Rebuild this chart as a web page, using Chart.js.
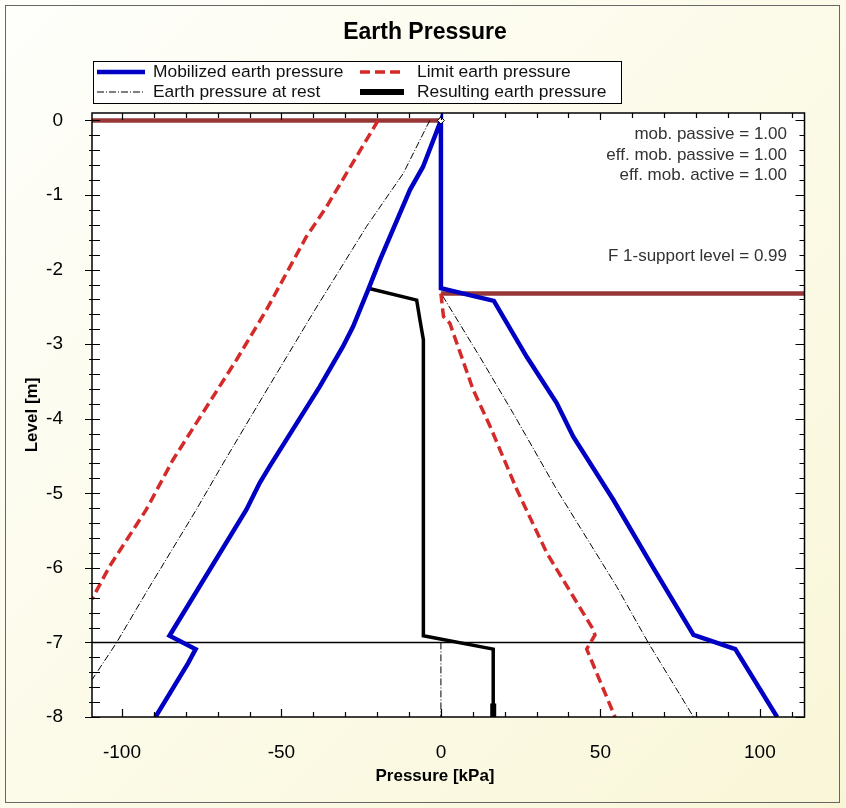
<!DOCTYPE html>
<html>
<head>
<meta charset="utf-8">
<title>Earth Pressure</title>
<script src="https://cdn.jsdelivr.net/npm/chart.js@4.4.1/dist/chart.umd.min.js"></script>
<style>
  html, body { margin: 0; padding: 0; }
  body {
    width: 846px;
    height: 808px;
    background: linear-gradient(135deg, #fefefb 0%, #fcfbe9 50%, #f9f6d8 100%);
  }
  canvas { display: block; }
</style>
</head>
<body>
<canvas id="chart" width="846" height="808"></canvas>
<script>
// Mobilized earth pressure: active side (bottom -> top), wall, passive side
const mobPressure = [-89.5, -79.3, -76.9, -85.1, -61.0, -56.8, -53.7, -38.0, -30.7, -27.5, -22.8, -19.1, -9.7, -5.6, 0, 0, 16.6, 26.9, 36.3, 41.5, 54.1, 66.6, 71.9, 79.2, 92.3, 105.4];
const mobLevel    = [-8.0, -7.28, -7.09, -6.91, -5.22, -4.86, -4.64, -3.57, -3.03, -2.76, -2.27, -1.87, -0.93, -0.62, 0, -2.25, -2.42, -3.17, -3.79, -4.24, -5.09, -6.0, -6.38, -6.90, -7.09, -8.0];

// Limit earth pressure
const limActPressure = [-19.7, -35.9, -42.2, -54.7, -64.1, -84.0, -92.4, -103.9, -109.4];
const limActLevel    = [0, -1.16, -1.56, -2.54, -3.21, -4.55, -5.22, -5.98, -6.42];
const limPasPressure = [0, 0.8, 2.8, 10.1, 15.4, 23.8, 33.2, 47.8, 48.3, 45.7, 54.6];
const limPasLevel    = [-2.32, -2.63, -2.72, -3.61, -4.10, -4.95, -5.80, -6.83, -6.90, -7.09, -8.0];

// Earth pressure at rest
const restActPressure = [-3.5, -11.8, -23.3, -39.5, -55.8, -68.3, -76.7, -91.3, -101.8, -109.4];
const restActLevel    = [0, -0.71, -1.42, -2.54, -3.70, -4.60, -5.22, -6.25, -7.01, -7.5];
const restPasPressure = [0.5, 12.2, 22.7, 36.3, 55.1, 65.1, 79.2];
const restPasLevel    = [-2.35, -3.17, -3.93, -4.95, -6.25, -7.01, -8.0];
const restWallPressure = [0, 0];
const restWallLevel    = [-7, -8];

// Resulting earth pressure
const resPressure = [-22.8, -7.6, -6.6, -5.5, -5.5, 16.4, 16.4];
const resLevel    = [-2.25, -2.41, -2.67, -2.94, -6.91, -7.09, -8.0];
const resTipPressure = [16.4, 16.4];
const resTipLevel    = [-7.82, -8.0];

// Supports and excavation level
const pressureMin = -109.4;
const pressureMax = 114;
const levelMin = -8;
const levelMax = 0.1;
const supportLevels = [0, -2.32];
const excavationLevel = -7;

// Axis ticks
const pressureMarks = [-100, -90, -80, -70, -60, -50, -40, -30, -20, -10, 0, 10, 20, 30, 40, 50, 60, 70, 80, 90, 100, 110];
const pressureLabels = [-100, -50, 0, 50, 100];
const levelLabels = [0, -1, -2, -3, -4, -5, -6, -7, -8];
const levelMinorStep = 0.2;

const legendLabels = ["Mobilized earth pressure", "Limit earth pressure", "Earth pressure at rest", "Resulting earth pressure"];
const notes = ["mob. passive = 1.00", "eff. mob. passive = 1.00", "eff. mob. active = 1.00", "F 1-support level = 0.99"];

const FONT = "'Liberation Sans', Arial, sans-serif";
const BLUE = "#0000c4";
const RED = "#d42a2a";
const BROWN = "#963636";
const REST_DASH = [7, 2, 1, 2];

function pts(xs, ys) {
  return xs.map((x, i) => ({ x: x, y: ys[i] }));
}

function line(data, color, width, dash, order) {
  return {
    data: data,
    showLine: true,
    borderColor: color,
    backgroundColor: color,
    borderWidth: width,
    borderDash: dash || [],
    pointRadius: 0,
    pointHoverRadius: 0,
    tension: 0,
    clip: 0,
    order: order
  };
}

const frame = {
  id: "frame",
  beforeDraw(chart) {
    const { ctx, chartArea: a } = chart;
    ctx.save();
    ctx.fillStyle = "#ffffff";
    ctx.fillRect(a.left, a.top, a.right - a.left, a.bottom - a.top);
    ctx.strokeStyle = "#666";
    ctx.lineWidth = 1;
    ctx.strokeRect(5.5, 5.5, 834, 797);
    ctx.restore();
  },
  afterDraw(chart) {
    drawAxes(chart);
    drawLegend(chart);
    drawTexts(chart);
  }
};

function drawAxes(chart) {
  const { ctx, chartArea: a, scales: { x, y } } = chart;
  ctx.save();
  ctx.strokeStyle = "#000";
  ctx.lineWidth = 1.5;
  ctx.strokeRect(a.left, a.top, a.right - a.left, a.bottom - a.top);

  ctx.lineWidth = 1.2;
  ctx.beginPath();
  pressureMarks.forEach(v => {
    const px = Math.round(x.getPixelForValue(v)) + 0.5;
    const major = pressureLabels.includes(v);
    ctx.moveTo(px, a.bottom);
    ctx.lineTo(px, a.bottom - (major ? 8 : 5));
    ctx.moveTo(px, a.top);
    ctx.lineTo(px, a.top + (major ? 7 : 5));
  });
  const steps = Math.round((0 - levelMin) / levelMinorStep);
  for (let i = 0; i <= steps; i++) {
    const v = levelMin + i * levelMinorStep;
    const py = Math.round(y.getPixelForValue(v)) + 0.5;
    const major = i % 5 === 0;
    ctx.moveTo(a.left - (major ? 7 : 3), py);
    ctx.lineTo(a.left + 8, py);
    ctx.moveTo(a.right, py);
    ctx.lineTo(a.right - (major ? 9 : 5), py);
  }
  ctx.stroke();
  ctx.restore();
}

function drawLegend(chart) {
  const { ctx } = chart;
  const ds = chart.data.datasets;
  const items = [
    { label: legendLabels[0], set: ds[0], x: 97, y: 72, w: 48 },
    { label: legendLabels[1], set: ds[2], x: 360, y: 72, w: 44 },
    { label: legendLabels[2], set: ds[4], x: 97, y: 92, w: 48 },
    { label: legendLabels[3], set: ds[7], x: 360, y: 92, w: 44 }
  ];
  ctx.save();
  ctx.fillStyle = "#fff";
  ctx.fillRect(93.5, 61.5, 528, 42);
  ctx.strokeStyle = "#000";
  ctx.lineWidth = 1;
  ctx.strokeRect(93.5, 61.5, 528, 42);
  items.forEach(it => {
    ctx.beginPath();
    ctx.strokeStyle = it.set.borderColor;
    ctx.lineWidth = it.set.borderWidth;
    ctx.setLineDash(it.set.borderDash);
    ctx.moveTo(it.x, it.y);
    ctx.lineTo(it.x + it.w, it.y);
    ctx.stroke();
    ctx.setLineDash([]);
    ctx.fillStyle = "#111";
    ctx.font = "17.4px " + FONT;
    ctx.textBaseline = "middle";
    ctx.textAlign = "left";
    ctx.fillText(it.label, it.x === 97 ? 153 : 417, it.y);
  });
  ctx.restore();
}

function drawTexts(chart) {
  const { ctx } = chart;
  ctx.save();
  ctx.fillStyle = "#000";
  ctx.textAlign = "center";
  ctx.textBaseline = "middle";
  ctx.font = "bold 23px " + FONT;
  ctx.fillText("Earth Pressure", 425, 33);

  ctx.font = "bold 17px " + FONT;
  ctx.fillText("Pressure [kPa]", 435, 776);
  ctx.save();
  ctx.translate(32, 415);
  ctx.rotate(-Math.PI / 2);
  ctx.fillText("Level [m]", 0, 0);
  ctx.restore();

  ctx.font = "17px " + FONT;
  ctx.fillStyle = "#333";
  ctx.textAlign = "right";
  const noteY = [134, 155, 175, 256];
  notes.forEach((t, i) => ctx.fillText(t, 787, noteY[i]));
  ctx.restore();
}

function renderChart() {
  const datasets = [
    line(pts(mobPressure, mobLevel), BLUE, 4.5, null, 1),
    line(pts(resPressure, resLevel), "#000", 3.5, null, 2),
    line(pts(limActPressure, limActLevel), RED, 3.5, [10, 5], 3),
    line(pts(limPasPressure, limPasLevel), RED, 3.5, [10, 5], 3),
    line(pts(restActPressure, restActLevel), "#000", 1, REST_DASH, 4),
    line(pts(restPasPressure, restPasLevel), "#000", 1, REST_DASH, 4),
    line(pts(restWallPressure, restWallLevel), "#000", 1, REST_DASH, 4),
    line(pts(resTipPressure, resTipLevel), "#000", 6, null, 2),
    line([{ x: pressureMin, y: supportLevels[0] }, { x: 0, y: supportLevels[0] }], BROWN, 4.5, null, 6),
    line([{ x: 0, y: supportLevels[1] }, { x: pressureMax, y: supportLevels[1] }], BROWN, 4.5, null, 6),
    line([{ x: pressureMin, y: excavationLevel }, { x: pressureMax, y: excavationLevel }], "#000", 1.5, null, 7),
    {
      data: [{ x: 0, y: 0 }],
      showLine: false,
      pointStyle: "rectRot",
      pointRadius: 3.5,
      borderColor: "#000",
      borderWidth: 1,
      backgroundColor: "#fff",
      clip: false,
      order: 0
    }
  ];

  new Chart(document.getElementById("chart"), {
    type: "scatter",
    data: { datasets: datasets },
    plugins: [frame],
    options: {
      responsive: false,
      animation: false,
      events: [],
      layout: { padding: { top: 113, right: 41.5, bottom: 0, left: 0 } },
      plugins: {
        legend: { display: false },
        title: { display: false },
        tooltip: { enabled: false }
      },
      scales: {
        x: {
          type: "linear",
          min: pressureMin,
          max: pressureMax,
          grid: { display: false },
          border: { display: false },
          afterFit: s => { s.height = 91; },
          afterBuildTicks: s => { s.ticks = pressureLabels.map(v => ({ value: v })); },
          ticks: {
            autoSkip: false,
            maxRotation: 0,
            padding: 16,
            color: "#000",
            font: { family: FONT, size: 19 }
          }
        },
        y: {
          type: "linear",
          min: levelMin,
          max: levelMax,
          grid: { display: false },
          border: { display: false },
          afterFit: s => { s.width = 92; },
          afterBuildTicks: s => { s.ticks = levelLabels.map(v => ({ value: v })); },
          ticks: {
            autoSkip: false,
            padding: 21,
            color: "#000",
            font: { family: FONT, size: 19 }
          }
        }
      }
    }
  });
}

document.addEventListener("DOMContentLoaded", () => {
  renderChart();
});
</script>
</body>
</html>
